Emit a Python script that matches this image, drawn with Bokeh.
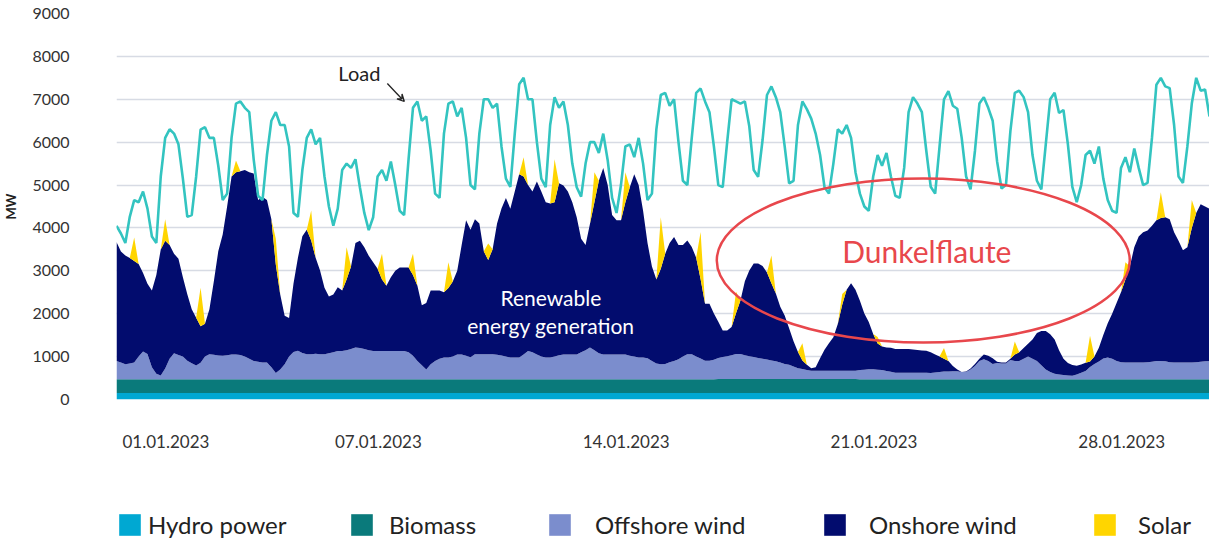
import numpy as np
import pandas as pd
from bokeh.plotting import figure
from bokeh.layouts import column
from bokeh.models import (ColumnDataSource, Range1d, SingleIntervalTicker, Legend, LegendItem,
                          Label, Arrow, VeeHead)
from bokeh.core.properties import value
from bokeh.embed import file_html
from bokeh.resources import INLINE

# ---------------- data (MW, 3-hourly from 01.01.2023 00:00, one row per day) ----------------
START = "2023-01-01"

hydro_daily = [150] * 31
biomass_daily = [320, 320, 325, 320, 320, 325, 320, 320, 320, 320, 325, 320, 320, 320, 320, 320,
                 325, 330, 330, 330, 330, 325, 325, 320, 320, 320, 320, 325, 320, 320, 320]

offshore_wind = [
    [430, 390, 350, 370, 390, 530, 650, 590],
    [280, 130, 90, 250, 480, 610, 570, 530],
    [430, 370, 320, 380, 530, 580, 570, 550],
    [550, 560, 580, 580, 570, 530, 480, 430],
    [410, 390, 390, 280, 150, 230, 350, 530],
    [630, 660, 610, 580, 580, 590, 580, 580],
    [610, 630, 660, 660, 680, 710, 740, 730],
    [710, 680, 660, 660, 660, 660, 660, 660],
    [660, 660, 630, 550, 430, 330, 230, 350],
    [430, 480, 510, 510, 530, 580, 580, 550],
    [510, 580, 580, 580, 580, 580, 570, 550],
    [530, 510, 510, 510, 580, 660, 630, 580],
    [530, 510, 510, 530, 560, 580, 580, 580],
    [580, 630, 680, 740, 680, 610, 580, 580],
    [580, 580, 580, 580, 550, 530, 510, 510],
    [490, 430, 370, 350, 360, 400, 430, 470],
    [530, 580, 580, 530, 480, 430, 430, 450],
    [490, 510, 530, 550, 580, 580, 550, 530],
    [510, 490, 470, 450, 430, 410, 380, 350],
    [330, 290, 250, 230, 210, 190, 190, 190],
    [190, 190, 190, 190, 190, 190, 190, 190],
    [210, 220, 230, 230, 220, 210, 190, 170],
    [150, 150, 150, 150, 150, 150, 150, 150],
    [150, 160, 170, 180, 180, 190, 190, 170],
    [170, 230, 310, 430, 470, 430, 360, 380],
    [370, 370, 450, 430, 430, 480, 530, 480],
    [430, 330, 230, 170, 130, 110, 100, 90],
    [80, 110, 150, 190, 280, 350, 410, 480],
    [510, 480, 430, 400, 390, 390, 390, 390],
    [390, 400, 410, 430, 430, 420, 400, 390],
    [390, 390, 390, 390, 400, 410, 420, 430],
]

onshore_wind = [
    [2770, 2590, 2540, 2460, 2370, 2160, 1830, 1640],
    [1790, 2300, 2940, 2980, 2650, 2320, 2240, 1850],
    [1550, 1260, 1110, 850, 760, 1050, 1710, 2430],
    [2830, 3470, 4150, 4250, 4280, 4350, 4350, 4370],
    [3770, 3860, 3790, 3450, 2530, 1750, 1130, 900],
    [1600, 2170, 2720, 2900, 2650, 2240, 1950, 1550],
    [1320, 1350, 1490, 1410, 1650, 1920, 2440, 2500],
    [2370, 2200, 2070, 1920, 1670, 1520, 1720, 1870],
    [1950, 1950, 1980, 1880, 1750, 1400, 1550, 1720],
    [1640, 1590, 1520, 1620, 1750, 1950, 2550, 3160],
    [2970, 3150, 3050, 2400, 2200, 2450, 3060, 3430],
    [3700, 3470, 3870, 4270, 4150, 3870, 3750, 4030],
    [3850, 3620, 3590, 3600, 4010, 3940, 3800, 3550],
    [3200, 2650, 2450, 2890, 3450, 4020, 4350, 3950],
    [3250, 3130, 3130, 3550, 3930, 4250, 4020, 3420],
    [2690, 2200, 1960, 2230, 2570, 2780, 2890, 2660],
    [2600, 2650, 2500, 2300, 1850, 1330, 1330, 1080],
    [840, 620, 600, 660, 950, 1250, 1730, 2000],
    [2180, 2200, 2160, 2030, 1800, 1580, 1300, 1130],
    [850, 590, 380, 200, 120, 60, 80, 290],
    [490, 640, 780, 1090, 1540, 1890, 2040, 1890],
    [1620, 1310, 1100, 820, 610, 550, 550, 560],
    [550, 550, 550, 550, 540, 530, 520, 510],
    [480, 420, 360, 300, 250, 120, 40, 0],
    [10, 20, 50, 50, 110, 120, 130, 30],
    [20, 20, 30, 150, 200, 250, 300, 450],
    [650, 800, 900, 880, 800, 570, 380, 290],
    [250, 200, 190, 190, 130, 180, 320, 550],
    [800, 1050, 1350, 1630, 1940, 2240, 2690, 2940],
    [3040, 3070, 3170, 3280, 3330, 3360, 3330, 3040],
    [2840, 2620, 2690, 3140, 3480, 3670, 3610, 3550],
]

solar = [
    [0, 0, 0, 0, 550, 0, 0, 0],
    [0, 0, 0, 500, 0, 0, 0, 0],
    [0, 0, 0, 900, 0, 0, 0, 0],
    [0, 0, 0, 270, 0, 0, 0, 0],
    [0, 0, 0, 0, 600, 0, 0, 0],
    [0, 0, 0, 0, 700, 0, 0, 0],
    [0, 0, 0, 0, 750, 0, 0, 0],
    [0, 0, 0, 0, 600, 0, 0, 0],
    [0, 0, 0, 500, 0, 0, 0, 0],
    [0, 0, 0, 600, 0, 0, 0, 0],
    [0, 0, 0, 0, 380, 0, 0, 0],
    [0, 0, 0, 0, 450, 0, 0, 0],
    [0, 0, 0, 1000, 0, 0, 0, 0],
    [0, 0, 0, 0, 700, 0, 0, 0],
    [0, 0, 0, 700, 0, 0, 0, 0],
    [0, 0, 0, 1200, 0, 0, 0, 0],
    [0, 0, 0, 0, 1100, 0, 0, 0],
    [0, 0, 0, 0, 500, 0, 0, 0],
    [0, 0, 0, 0, 650, 0, 0, 0],
    [0, 0, 0, 400, 0, 0, 0, 0],
    [0, 0, 0, 0, 250, 0, 0, 0],
    [0, 0, 0, 0, 150, 0, 0, 0],
    [0, 0, 0, 0, 0, 0, 0, 0],
    [0, 0, 0, 250, 0, 0, 0, 0],
    [0, 0, 0, 0, 0, 0, 0, 0],
    [0, 0, 0, 300, 0, 0, 0, 0],
    [0, 0, 0, 0, 0, 0, 0, 0],
    [0, 0, 0, 0, 600, 0, 0, 0],
    [0, 0, 0, 0, 400, 0, 0, 0],
    [0, 0, 0, 0, 600, 0, 0, 0],
    [0, 0, 0, 650, 0, 0, 0, 0],
]

load = [
    [4050, 3870, 3650, 4260, 4650, 4600, 4850, 4450],
    [3800, 3650, 5200, 6100, 6300, 6200, 5950, 5150],
    [4260, 4300, 5200, 6290, 6350, 6100, 6100, 5450],
    [4650, 4800, 6100, 6900, 6950, 6800, 6700, 5600],
    [4750, 4650, 5700, 6500, 6700, 6400, 6400, 5900],
    [4350, 4260, 5350, 6100, 6300, 5950, 6100, 5200],
    [4500, 4050, 4450, 5350, 5500, 5400, 5600, 4950],
    [4350, 3950, 4250, 5200, 5350, 5100, 5550, 5000],
    [4400, 4300, 5600, 6800, 6950, 6500, 6600, 5800],
    [4800, 4700, 6200, 6900, 6950, 6600, 6800, 6100],
    [5000, 4900, 6200, 7000, 7000, 6800, 6900, 5900],
    [5150, 4960, 6200, 7350, 7500, 7000, 7000, 6000],
    [5150, 4950, 6400, 7050, 6800, 6950, 6400, 5500],
    [4950, 4730, 5500, 6000, 6000, 5750, 6200, 5580],
    [4700, 4350, 5000, 5900, 5950, 5650, 6100, 5500],
    [4650, 4800, 6300, 7100, 7150, 6850, 7000, 6000],
    [5100, 5000, 6100, 7150, 7250, 6950, 6700, 5900],
    [5000, 4950, 6000, 7000, 6950, 6900, 6950, 6370],
    [5350, 5190, 6050, 7100, 7300, 7050, 6700, 5900],
    [5040, 5100, 6400, 6950, 6770, 6550, 6200, 5700],
    [4950, 4800, 5500, 6300, 6200, 6400, 6100, 5300],
    [4800, 4500, 4400, 5200, 5700, 5450, 5750, 5200],
    [4750, 4700, 5400, 6700, 7050, 6900, 6700, 5800],
    [4960, 4800, 5900, 7000, 7190, 6850, 6780, 6100],
    [5200, 4900, 5800, 6900, 7050, 6800, 6500, 5550],
    [4920, 5000, 6250, 7150, 7200, 7050, 6700, 5700],
    [5100, 4900, 5950, 7000, 7150, 6680, 6750, 5950],
    [4960, 4600, 5000, 5700, 5800, 5500, 5900, 5150],
    [4650, 4400, 4350, 5400, 5650, 5300, 5850, 5400],
    [5000, 5050, 6100, 7340, 7500, 7300, 7260, 6400],
    [5200, 5050, 5900, 6900, 7500, 7200, 7230, 6600],
]

tick_dates = ["2023-01-01", "2023-01-07", "2023-01-14", "2023-01-21", "2023-01-28"]
series_names = ["Hydro power", "Biomass", "Offshore wind", "Onshore wind", "Solar"]
series_colors = ["#00a8d2", "#0a7a7b", "#7b8dcd", "#020c6e", "#ffd500"]
load_color = "#33c4c0"

# ---------------- build ----------------
def flat(rows):
    return [v for r in rows for v in r]

n = len(load) * 8
x = pd.date_range(START, periods=n, freq="3h")
src = ColumnDataSource(dict(
    x=x,
    hydro=np.repeat(hydro_daily, 8),
    biomass=np.repeat(biomass_daily, 8),
    offshore=flat(offshore_wind),
    onshore=flat(onshore_wind),
    solar=flat(solar),
    load=flat(load),
))

def tx(days):
    return (pd.Timestamp(START) + pd.Timedelta(days=days)).value / 1e6

FONT = "Lato"
W = 1209
xr = Range1d(x[0], x[-1])

# ---- main chart ----
p = figure(width=W, height=411, x_axis_type="datetime", output_backend="svg",
           toolbar_location=None, x_range=xr, y_range=Range1d(0, 9000),
           min_border_left=107, min_border_right=0, min_border_top=13, min_border_bottom=12)
p.outline_line_color = None

renderers = p.varea_stack(["hydro", "biomass", "offshore", "onshore", "solar"], x="x",
                          color=series_colors, source=src)
p.line("x", "load", source=src, line_color=load_color, line_width=2.6)

p.xaxis.visible = False
p.yaxis.ticker = SingleIntervalTicker(interval=1000)
p.yaxis.major_label_standoff = 47
p.yaxis.major_label_text_font = FONT
p.yaxis.major_label_text_font_size = "16px"
p.yaxis.major_label_text_color = "#333333"
p.yaxis.axis_label = "MW"
p.yaxis.axis_label_text_font = FONT
p.yaxis.axis_label_text_font_style = "bold"
p.yaxis.axis_label_text_font_size = "13px"
p.yaxis.axis_label_text_color = "#222222"
p.yaxis.axis_label_standoff = 10
p.yaxis.axis_line_color = None
p.yaxis.major_tick_line_color = None
p.yaxis.minor_tick_line_color = None
p.yaxis.major_tick_out = 0
p.yaxis.major_tick_in = 0
p.yaxis.minor_tick_out = 0
p.xgrid.visible = False
p.ygrid.grid_line_color = "#d7dbe4"
p.ygrid.grid_line_width = 1.5

# annotations
p.add_layout(Label(x=tx(6.86), y=7624, text="Load", text_align="center", text_baseline="middle",
                   text_font=FONT, text_font_size="20px", text_color="#222222"))
p.add_layout(Arrow(end=VeeHead(size=7, line_color="#222222", line_width=1.3, fill_color=None),
                   x_start=tx(7.65), y_start=7368, x_end=tx(8.13), y_end=6948,
                   line_color="#222222", line_width=1.3))
p.add_layout(Label(x=tx(12.27), y=2378, text="Renewable", text_align="center",
                   text_baseline="middle", text_font=FONT, text_font_size="21px",
                   text_color="white"))
p.add_layout(Label(x=tx(12.27), y=1725, text="energy generation", text_align="center",
                   text_baseline="middle", text_font=FONT, text_font_size="21px",
                   text_color="white"))
p.ellipse(x=[tx(22.79)], y=[3241], width=413, height=164, width_units="screen",
          height_units="screen", fill_color=None, line_color="#e8474c", line_width=2.5)
p.add_layout(Label(x=tx(22.89), y=3474, text="Dunkelflaute", text_align="center",
                   text_baseline="middle", text_font=FONT, text_font_size="30px",
                   text_color="#e8474c"))

# ---- bottom strip: date labels + legend ----
HB = 128
pb = figure(width=W, height=HB, x_axis_type="datetime", output_backend="svg",
            toolbar_location=None, x_range=xr, y_range=Range1d(0, HB),
            min_border_left=107, min_border_right=0, min_border_top=0, min_border_bottom=0)
pb.outline_line_color = None
pb.xaxis.visible = False
pb.yaxis.visible = False
pb.xgrid.visible = False
pb.ygrid.visible = False

tick_src = ColumnDataSource(dict(
    x=[pd.Timestamp(d) for d in tick_dates],
    y=[HB - 30] * len(tick_dates),
    label=[pd.Timestamp(d).strftime("%d.%m.%Y") for d in tick_dates],
))
pb.text("x", "y", text="label", source=tick_src, text_align="left", text_baseline="middle",
        x_offset=6, text_font=value(FONT), text_font_size="17px", text_color="#333333")

# legend proxies (kept below the visible strip, only used for the legend swatches)
proxies = [pb.varea(x=[x[0], x[1]], y1=[-60, -60], y2=[-50, -50], fill_color=c)
           for c in series_colors]
legend_x = [0, 232, 430, 705, 975]
legend_gap = [5, 14, 22, 21, 20]
for name, r, lx, gap in zip(series_names, proxies, legend_x, legend_gap):
    lg = Legend(items=[LegendItem(label=name, renderers=[r])], location=(lx, 0),
                orientation="horizontal", glyph_width=27, glyph_height=27,
                label_standoff=gap, padding=0, margin=0, spacing=0,
                border_line_color=None, background_fill_alpha=0,
                label_text_font=FONT, label_text_font_size="24px",
                label_text_color="#222222", label_height=27)
    pb.add_layout(lg)

layout = column(p, pb, spacing=0)
open("out.html", "w").write(file_html(layout, INLINE))
